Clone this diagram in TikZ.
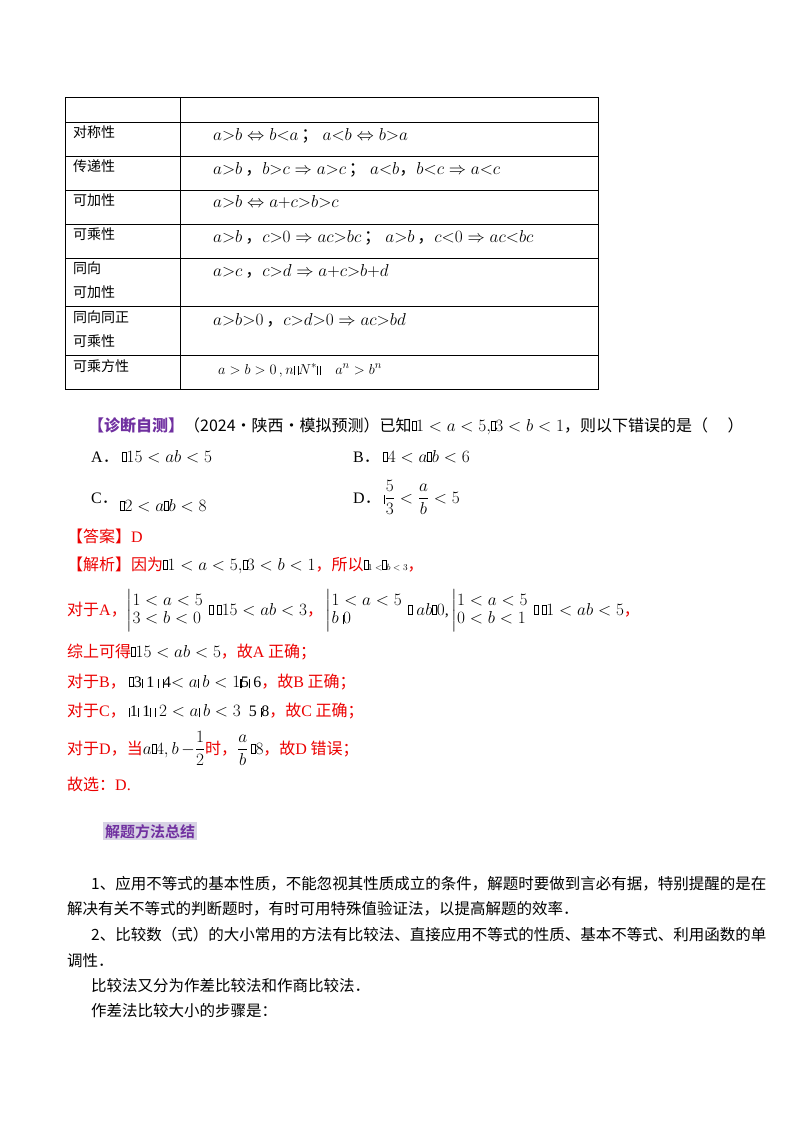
\documentclass[tikz,border=0pt]{standalone}
\usepackage{fontspec}
\usepackage{amsmath}
\setmainfont{Liberation Serif}
\newfontfamily\cjk{Noto Sans CJK SC}
\newfontfamily\cjkb{Noto Sans CJK SC}[BoldFont={* Bold}]
\definecolor{myred}{RGB}{235,0,0}
\definecolor{mypurple}{RGB}{112,48,160}
\definecolor{hlbg}{RGB}{215,210,228}
\newcommand{\bx}{\tikz[baseline=-1pt]\draw[line width=0.4pt] (0,0) rectangle (4pt,9pt);}
\newcommand{\vb}{\rule[-1pt]{0.4pt}{9pt}}
\newcommand{\cc}{{\cjk ，}}
\newcommand{\cd}{{\cjk ．}}
\begin{document}
\begin{tikzpicture}[x=1pt,y=-1pt,
  t/.style={anchor=base west,inner sep=0pt,font=\fontsize{14}{16}\selectfont\cjk},
  tm/.style={anchor=base west,inner sep=0pt,font=\fontsize{16}{18}\selectfont\cjk},
  m/.style={anchor=base west,inner sep=0pt,font=\fontsize{17}{19}\selectfont},
  r/.style={tm,text=myred},
  p/.style={anchor=base west,inner sep=0pt,font=\fontsize{15.5}{18}\selectfont\cjk}]
\useasboundingbox (0,0) rectangle (800,1132);
% table
\draw[line width=0.6pt] (65,97) rectangle (598,389);
\draw[line width=0.6pt] (180,97) -- (180,389);
\foreach \y in {122,156,190,224,258,306,355} \draw[line width=0.6pt] (65,\y) -- (598,\y);
\node[t] (r1) at (73,137) {对称性};
\node[t] (r2) at (73,171) {传递性};
\node[t] (r3) at (73,205) {可加性};
\node[t] (r4) at (73,239) {可乘性};
\node[t] (r5) at (73,273) {同向};
\node[t] (r5b) at (73,297) {可加性};
\node[t] (r6) at (73,322) {同向同正};
\node[t] (r6b) at (73,346) {可乘性};
\node[t] (r7) at (73,371) {可乘方性};
\node[m] (e1) at (213,140) {$a{>}b\Leftrightarrow b{<}a$\,{\cjk ；} $a{<}b\Leftrightarrow b{>}a$};
\node[m] (e2) at (213,174) {$a{>}b$\,\cc$b{>}c\Rightarrow a{>}c$\,{\cjk ；} $a{<}b$\cc$b{<}c\Rightarrow a{<}c$};
\node[m] (e3) at (213,207) {$a{>}b\Leftrightarrow a{+}c{>}b{>}c$};
\node[m] (e4) at (213,242) {$a{>}b$\,\cc$c{>}0\Rightarrow ac{>}bc$\,{\cjk ；} $a{>}b$\,\cc$c{<}0\Rightarrow ac{<}bc$};
\node[m] (e5) at (213,276) {$a{>}c$\,\cc$c{>}d\Rightarrow a{+}c{>}b{+}d$};
\node[m] (e6) at (213,325) {$a{>}b{>}0$\,\cc$c{>}d{>}0\Rightarrow ac{>}bd$};
\node[m,font=\fontsize{15}{17}\selectfont] (e7) at (218,374) {$a>b>0\,,n$\vb\ \vb$N^*$\vb\,\vb\quad $a^n>b^n$};
% problem
\node[tm] (q) at (88,431) {\textcolor{mypurple}{\bfseries【诊断自测】}（2024·陕西·模拟预测）已知{\rmfamily\bx$1<a<5,$\bx$3<b<1$}，则以下错误的是（\quad\ ）};
\node[tm] (qa) at (91,462) {{\rmfamily A}．\ {\rmfamily\bx$15<ab<5$}};
\node[tm] (qb) at (353,462) {{\rmfamily B}．\ {\rmfamily\bx$4<a$\bx$b<6$}};
\node[tm] (qc) at (91,503) {{\rmfamily C}．};
\node[tm] (qc2) at (120,511) {{\rmfamily\bx$2<a$\bx$b<8$}};
\node[tm] (qd) at (353,503) {{\rmfamily D}．\ {\rmfamily\vb$\dfrac{5}{3}<\dfrac{a}{b}<5$}};
\node[r] (ans) at (67,542) {【答案】{\rmfamily D}};
\node[r] (j0) at (67,570) {【解析】因为{\rmfamily\color{black}\bx$1<a<5,$\bx$3<b<1$}，所以{\rmfamily\color{black}\small\bx$1<$\bx$b<3$}，};
\node[r] (ja) at (67,615) {对于{\rmfamily A}，{\rmfamily\color{black}$\left|\begin{array}{@{}l}1<a<5\\ 3<b<0\end{array}\right.$\bx\ \bx$15<ab<3$}，\,{\rmfamily\color{black}$\left|\begin{array}{@{}l}1<a<5\\ b\ \vb 0\end{array}\right.$\bx\ $ab$\bx$0$,\,$\left|\begin{array}{@{}l}1<a<5\\ 0<b<1\end{array}\right.$\bx\ \bx$1<ab<5$}，};
\node[r] (js) at (67,657) {综上可得{\rmfamily\color{black}\bx$15<ab<5$}，故{\rmfamily A} 正确；};
\node[r] (jb) at (67,687) {对于{\rmfamily B}，\ {\rmfamily\color{black}\bx3\vb\ 1\ \vb\ \vb4$<a$\vb\ $b<1$\vb\vb5\vb\ 6}，故{\rmfamily B} 正确；};
\node[r] (jc) at (67,716) {对于{\rmfamily C}，\ {\rmfamily\color{black}\vb1\vb\ 1\vb\ \vb\ $2<a$\vb\ $b<3$\ \ 5\ \vb8}，故{\rmfamily C} 正确；};
\node[r] (jd) at (67,754) {对于{\rmfamily D}，当{\rmfamily\color{black}$a$\bx$4,b$\,$-\dfrac{1}{2}$}时，{\rmfamily\color{black}$\dfrac{a}{b}$\,\bx$8$}，故{\rmfamily D} 错误；};
\node[r] (jf) at (67,790) {故选：{\rmfamily D.}};
% heading
\node[anchor=base west,inner sep=2pt,fill=hlbg,text=mypurple,font=\fontsize{15}{17}\selectfont\cjkb\bfseries] (h) at (103,837) {解题方法总结};
\node[p] (p1) at (91,889) {1、应用不等式的基本性质，不能忽视其性质成立的条件，解题时要做到言必有据，特别提醒的是在};
\node[p] (p2) at (67,914) {解决有关不等式的判断题时，有时可用特殊值验证法，以提高解题的效率．};
\node[p] (p3) at (91,940) {2、比较数（式）的大小常用的方法有比较法、直接应用不等式的性质、基本不等式、利用函数的单};
\node[p] (p4) at (67,966) {调性．};
\node[p] (p5) at (91,991) {比较法又分为作差比较法和作商比较法．};
\node[p] (p6) at (91,1016) {作差法比较大小的步骤是：};
\end{tikzpicture}
\end{document}
